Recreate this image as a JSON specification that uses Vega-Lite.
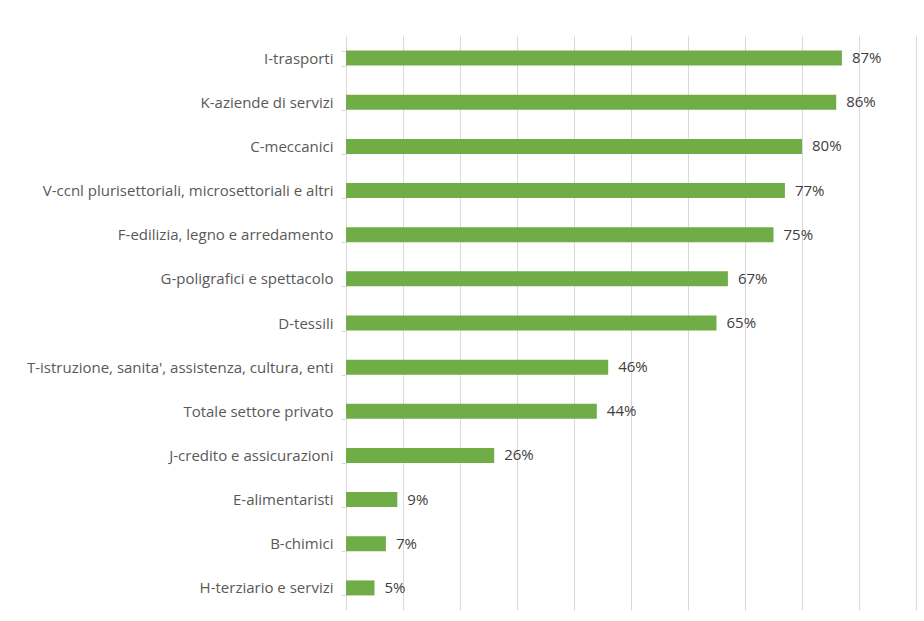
{
  "$schema": "https://vega.github.io/schema/vega-lite/v6.json",
  "width": 570,
  "height": 574,
  "autosize": {"type": "none"},
  "padding": {"left": 346, "top": 36, "right": 8, "bottom": 11},
  "background": "white",
  "data": {
    "values": [
      {"settore": "I-trasporti", "quota": 0.87},
      {"settore": "K-aziende di servizi", "quota": 0.86},
      {"settore": "C-meccanici", "quota": 0.80},
      {"settore": "V-ccnl plurisettoriali, microsettoriali e altri", "quota": 0.77},
      {"settore": "F-edilizia, legno e arredamento", "quota": 0.75},
      {"settore": "G-poligrafici e spettacolo", "quota": 0.67},
      {"settore": "D-tessili", "quota": 0.65},
      {"settore": "T-istruzione, sanita', assistenza, cultura, enti", "quota": 0.46},
      {"settore": "Totale settore privato", "quota": 0.44},
      {"settore": "J-credito e assicurazioni", "quota": 0.26},
      {"settore": "E-alimentaristi", "quota": 0.09},
      {"settore": "B-chimici", "quota": 0.07},
      {"settore": "H-terziario e servizi", "quota": 0.05}
    ]
  },
  "encoding": {
    "y": {
      "field": "settore",
      "type": "nominal",
      "sort": null,
      "scale": {"paddingInner": 0.66, "paddingOuter": 0.33},
      "axis": {
        "title": null,
        "domainColor": "#D9D9D9",
        "tickColor": "#D9D9D9",
        "tickSize": 5,
        "tickBand": "extent",
        "labelFont": "Open Sans",
        "labelFontSize": 15,
        "labelColor": "#595959",
        "labelPadding": 8,
        "labelLimit": 400
      }
    },
    "x": {
      "field": "quota",
      "type": "quantitative",
      "scale": {"domain": [0, 1], "nice": false},
      "axis": {
        "title": null,
        "labels": false,
        "ticks": false,
        "domain": false,
        "grid": true,
        "gridColor": "#D9D9D9",
        "values": [0.1, 0.2, 0.3, 0.4, 0.5, 0.6, 0.7, 0.8, 0.9, 1.0]
      }
    }
  },
  "layer": [
    {"mark": {"type": "bar", "color": "#70AD47"}},
    {
      "mark": {"type": "text", "align": "left", "dx": 10, "font": "Open Sans", "fontSize": 15, "color": "#404040"},
      "encoding": {"text": {"field": "quota", "type": "quantitative", "format": ".0%"}}
    }
  ],
  "config": {"view": {"stroke": null}}
}
